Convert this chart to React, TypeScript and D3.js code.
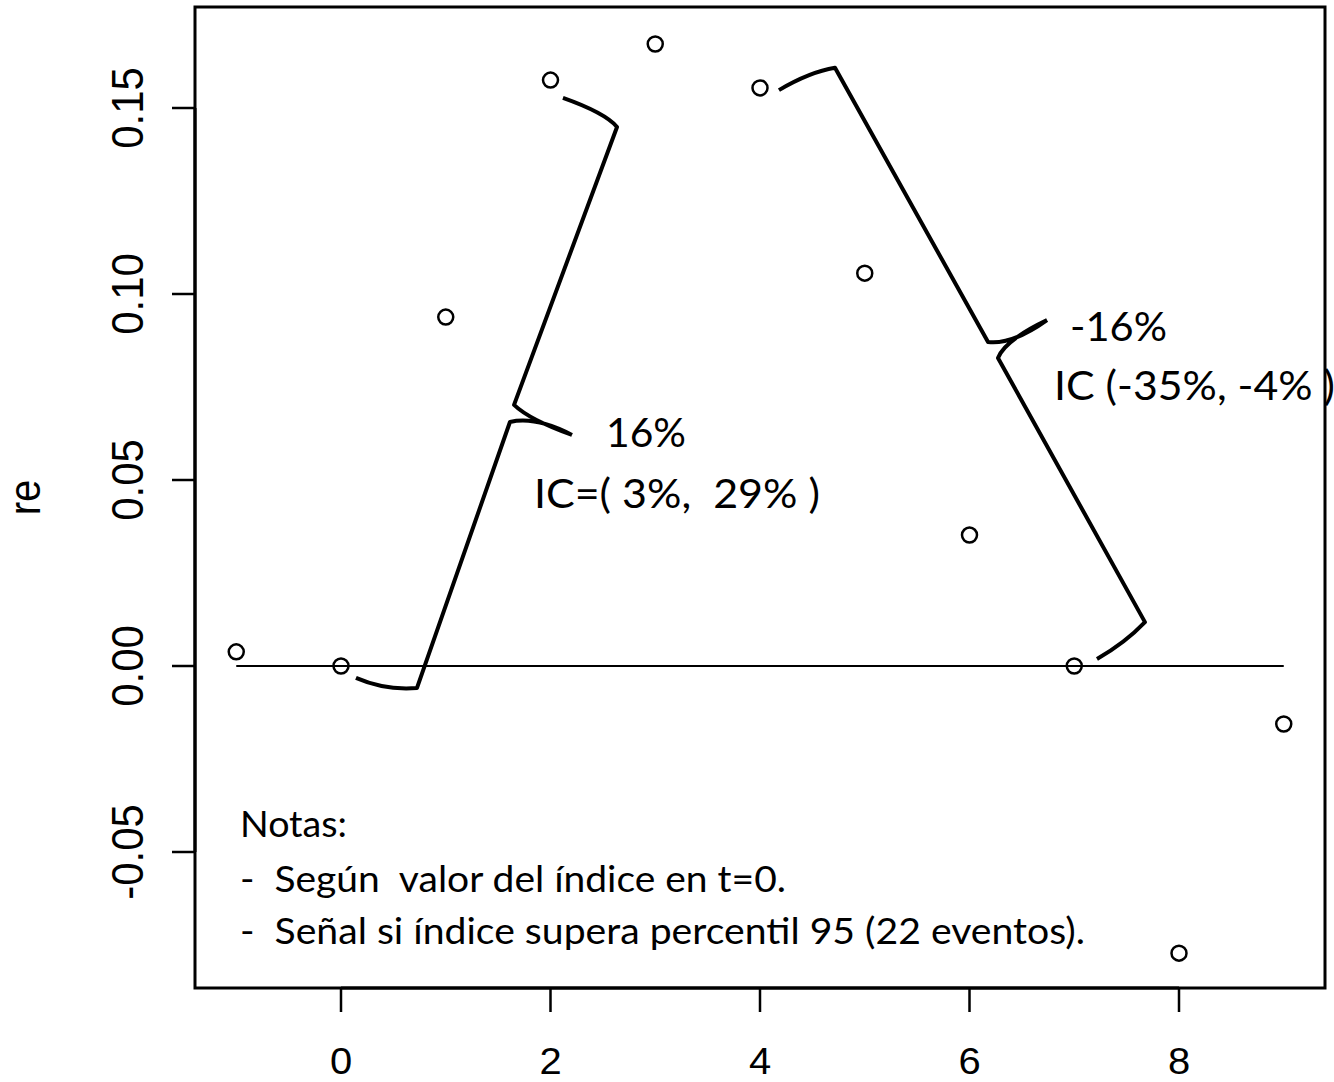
import React from "react";
import * as d3 from "d3";

// ---- data ----
const tValues = [-1, 0, 1, 2, 3, 4, 5, 6, 7, 8, 9];
const reValues = [0.0038, 0, 0.0938, 0.1575, 0.1672, 0.1554, 0.1056, 0.0352, 0, -0.0772, -0.0156];
const xTicks = [0, 2, 4, 6, 8];
const xTickLabels = ["0", "2", "4", "6", "8"];
const yTicks = [-0.05, 0, 0.05, 0.1, 0.15];
const yTickLabels = ["-0.05", "0.00", "0.05", "0.10", "0.15"];
const yLabel = "re";
const refLine = [-1, 9]; // horizontal line at re = 0

// brace key points in data units [t, re]
const braceLeft = {
  a: [2.119, 0.1527], abc: [2.52, 0.1487], b: [2.635, 0.1449],
  c: [1.652, 0.0702], ctc: [1.80, 0.0662], tip: [2.205, 0.0621],
  d: [1.613, 0.0656], dtc: [1.86, 0.0672],
  e: [0.7255, -0.0059], efc: [0.42, -0.0066], f: [0.143, -0.0032],
};
const braceRight = {
  a: [4.181, 0.1548], abc: [4.477, 0.1597], b: [4.716, 0.1608],
  c: [6.177, 0.0871], ctc: [6.406, 0.0863], tip: [6.74, 0.093],
  d: [6.272, 0.0828], dtc: [6.339, 0.0876],
  e: [7.675, 0.0118], efc: [7.485, 0.0062], f: [7.217, 0.0019],
};

const annotations = [
  { text: "16%", t: 2.53, re: 0.0589, len: 80 },
  { text: "IC=( 3%,  29% )", t: 1.842, re: 0.0425, len: 286 },
  { text: "-16%", t: 6.96, re: 0.0874, len: 97 },
  { text: "IC (-35%, -4% )", t: 6.807, re: 0.0715, len: 281 },
];
const notes = [
  { text: "Notas:", len: 107 },
  { text: "-  Según  valor del índice en t=0.", len: 546 },
  { text: "-  Señal si índice supera percentil 95 (22 eventos).", len: 845 },
];

export default function App() {
  const W = 1334, H = 1082;
  const box = { l: 195, r: 1325, t: 7, b: 988 };
  const x = d3.scaleLinear().domain([0, 8]).range([341, 1179]);
  const y = d3.scaleLinear().domain([0, 0.15]).range([666, 108]);
  const P = (p: number[]) => [x(p[0]), y(p[1])];

  const bracePath = (br: any) => {
    const p = d3.path();
    const A = P(br.a), AB = P(br.abc), B = P(br.b), C = P(br.c), CT = P(br.ctc), T = P(br.tip);
    const D = P(br.d), DT = P(br.dtc), E = P(br.e), EF = P(br.efc), F = P(br.f);
    p.moveTo(A[0], A[1]);
    p.quadraticCurveTo(AB[0], AB[1], B[0], B[1]);
    p.lineTo(C[0], C[1]);
    p.quadraticCurveTo(CT[0], CT[1], T[0], T[1]);
    p.moveTo(T[0], T[1]);
    p.quadraticCurveTo(DT[0], DT[1], D[0], D[1]);
    p.lineTo(E[0], E[1]);
    p.quadraticCurveTo(EF[0], EF[1], F[0], F[1]);
    return p.toString();
  };

  const axisFont = "'Liberation Sans', Arial, sans-serif";
  const noteFont = "Lato, Carlito, Calibri, sans-serif";
  const noteX = 240;
  const noteBase = [837, 892, 944];

  return (
    <svg width={W} height={H} style={{ position: "absolute", left: 0, top: 0, display: "block", background: "#fff" }}>
      <rect x={0} y={0} width={W} height={H} fill="#fff" />
      {/* reference line */}
      <line x1={x(refLine[0])} x2={x(refLine[1])} y1={y(0)} y2={y(0)} stroke="#000" strokeWidth={2} />
      {/* points */}
      {tValues.map((t, i) => (
        <circle key={i} cx={x(t)} cy={y(reValues[i])} r={7.5} fill="none" stroke="#000" strokeWidth={2.5} />
      ))}
      {/* braces */}
      <path d={bracePath(braceLeft)} fill="none" stroke="#000" strokeWidth={4} strokeLinejoin="round" strokeLinecap="butt" />
      <path d={bracePath(braceRight)} fill="none" stroke="#000" strokeWidth={4} strokeLinejoin="round" strokeLinecap="butt" />
      {/* annotation texts */}
      {annotations.map((a, i) => (
        <text key={i} x={x(a.t)} y={y(a.re)} fontFamily={noteFont} fontSize={40} fill="#000"
          textLength={a.len} lengthAdjust="spacingAndGlyphs" style={{ whiteSpace: "pre" }}>{a.text}</text>
      ))}
      {notes.map((n, i) => (
        <text key={i} x={noteX} y={noteBase[i]} fontFamily={noteFont} fontSize={36} fill="#000"
          textLength={n.len} lengthAdjust="spacingAndGlyphs" style={{ whiteSpace: "pre" }}>{n.text}</text>
      ))}
      {/* box */}
      <rect x={box.l} y={box.t} width={box.r - box.l} height={box.b - box.t} fill="none" stroke="#000" strokeWidth={3} />
      {/* x axis */}
      <line x1={x(xTicks[0])} x2={x(xTicks[xTicks.length - 1])} y1={box.b} y2={box.b} stroke="#000" strokeWidth={3} />
      {xTicks.map((t, i) => (
        <g key={i}>
          <line x1={x(t)} x2={x(t)} y1={box.b} y2={box.b + 24} stroke="#000" strokeWidth={2.5} />
          <text transform={`translate(${x(t)},1074) scale(1.08,1)`} textAnchor="middle" fontFamily={axisFont} fontSize={37} fill="#000">{xTickLabels[i]}</text>
        </g>
      ))}
      {/* y axis */}
      <line x1={box.l} x2={box.l} y1={y(yTicks[0])} y2={y(yTicks[yTicks.length - 1])} stroke="#000" strokeWidth={3} />
      {yTicks.map((v, i) => (
        <g key={i}>
          <line x1={box.l - 23} x2={box.l} y1={y(v)} y2={y(v)} stroke="#000" strokeWidth={2.5} />
          <text transform={`translate(143,${y(v)}) rotate(-90) scale(1,1.06)`} textAnchor="middle" fontFamily={axisFont} fontSize={42} fill="#000">{yTickLabels[i]}</text>
        </g>
      ))}
      <text transform={`translate(40,${(box.t + box.b) / 2}) rotate(-90) scale(1,1.1)`} textAnchor="middle" fontFamily={axisFont} fontSize={40} fill="#000">{yLabel}</text>
    </svg>
  );
}
